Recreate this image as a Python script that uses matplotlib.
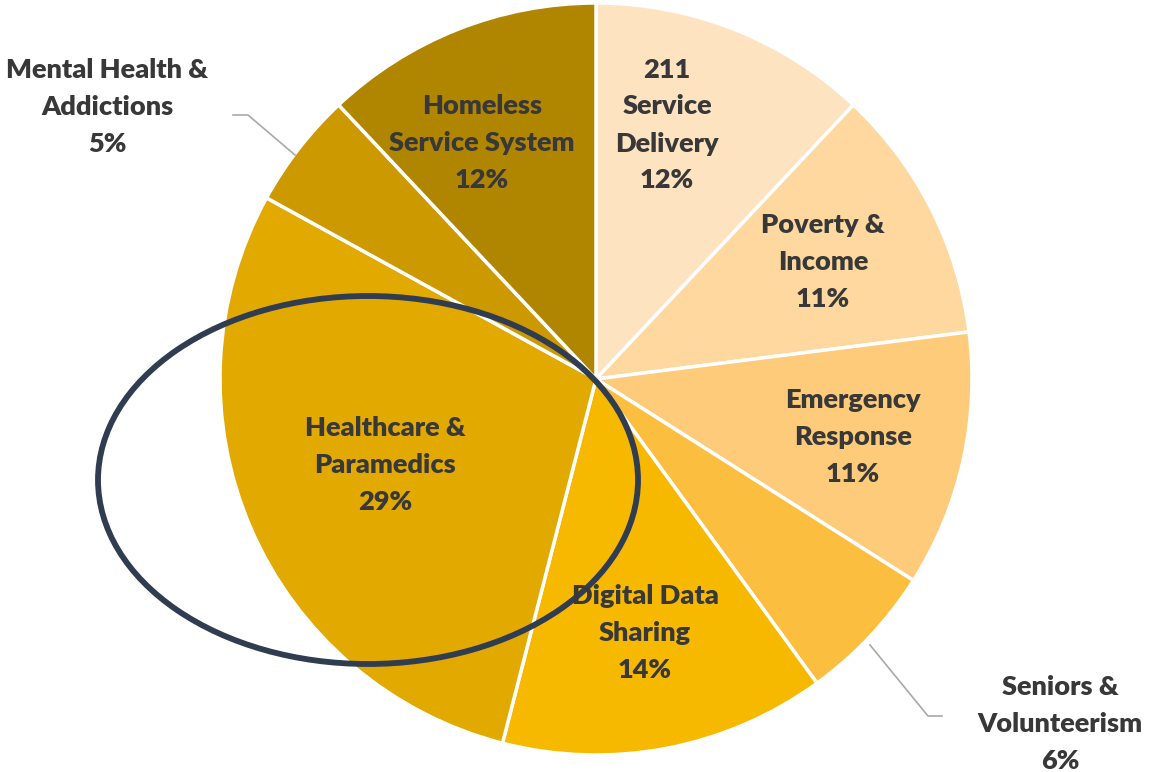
import matplotlib
matplotlib.use("Agg")
import matplotlib.pyplot as plt
from matplotlib.patches import Ellipse

categories = ["211\nService\nDelivery", "Poverty &\nIncome", "Emergency\nResponse",
              "Seniors &\nVolunteerism", "Digital Data\nSharing", "Healthcare &\nParamedics",
              "Mental Health &\nAddictions", "Homeless\nService System"]
values = [12, 11, 11, 6, 14, 29, 5, 12]
colors = ["#FEE3C1", "#FED89E", "#FDCB7A", "#FCBE3E", "#F7B900", "#E2A900", "#CC9A00", "#B08500"]

W, H = 1158, 772
fig = plt.figure(figsize=(W / 100, H / 100), dpi=100)
ax = fig.add_axes([0, 0, 1, 1])

cx, cy, r = 596, H - 379, 376
ax.pie(values, colors=colors, startangle=90, counterclock=False,
       center=(cx, cy), radius=r, frame=True,
       wedgeprops=dict(edgecolor="white", linewidth=2.5))
ax.set_xlim(0, W)
ax.set_ylim(0, H)
ax.set_aspect("equal")
ax.axis("off")

label_pos = [(667, 125), (823, 262), (853, 437), (1060, 724),
             (645, 633), (385, 465), (107, 107), (482, 143)]
for cat, v, (px, py) in zip(categories, values, label_pos):
    ax.text(px, H - py, f"{cat}\n{v}%", ha="center", va="center",
            fontsize=19.5, fontweight="heavy", family="Lato", color="#383838",
            linespacing=1.65)

# leader lines
ax.plot([233, 248, 295], [H - 115, H - 115, H - 155], color="#A9A9A9", lw=1.2)
ax.plot([870, 928, 942], [H - 645, H - 716, H - 716], color="#A9A9A9", lw=1.2)

ell = Ellipse((368, H - 480), 540, 368, fill=False, edgecolor="#303C4F", linewidth=4.2)
ax.add_patch(ell)

fig.savefig("out.png", dpi=100, facecolor="white")
